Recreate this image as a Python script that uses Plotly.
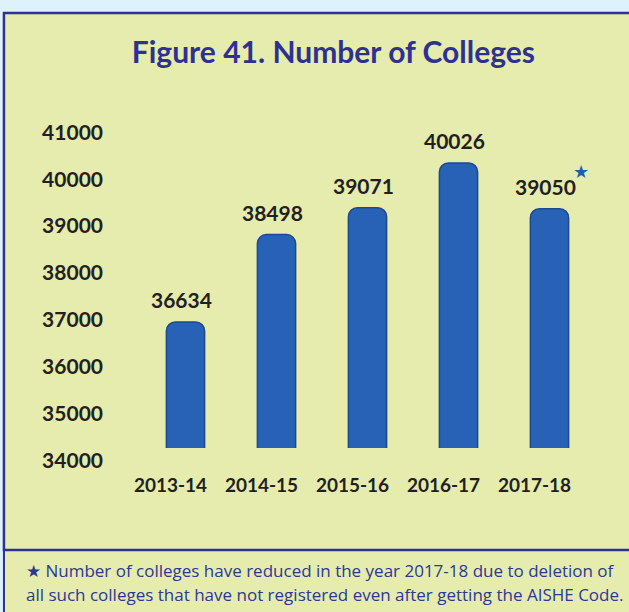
import plotly.graph_objects as go

years = ["2013-14", "2014-15", "2015-16", "2016-17", "2017-18"]
colleges = [36634, 38498, 39071, 40026, 39050]
y_ticks = [34000, 35000, 36000, 37000, 38000, 39000, 40000, 41000]
footnote = [
    "Number of colleges have reduced in the year 2017-18 due to deletion of",
    "all such colleges that have not registered even after getting the AISHE Code.",
]

NAVY = "#2e3192"
YELLOW = "#e5ecae"
INK = "#231f20"

fig = go.Figure()

fig.add_trace(go.Bar(
    x=years,
    y=colleges,
    width=0.42,
    marker=dict(color="#2762b6", line=dict(color="#1b4a8f", width=1.5), cornerradius=9),
    hoverinfo="x+y",
))

# value labels above each bar
for yr, v in zip(years, colleges):
    fig.add_annotation(
        x=yr, y=v, text=f"<b>{v}</b>", showarrow=False,
        yanchor="bottom", yshift=8, xshift=-4,
        font=dict(family="Lato", size=21, color=INK),
    )

# star marking the 2017-18 value
fig.add_annotation(
    x=years[-1], y=colleges[-1], text="★", showarrow=False,
    yanchor="bottom", xshift=31, yshift=25,
    font=dict(family="DejaVu Sans", size=18, color="#1f5fa8"),
)

# frame: footnote box then chart box on top
fig.add_shape(type="rect", xref="paper", yref="paper",
              x0=-0.299, x1=1.12, y0=-0.55, y1=-0.302,
              fillcolor=YELLOW, line=dict(color=NAVY, width=2), layer="below")
fig.add_shape(type="rect", xref="paper", yref="paper",
              x0=-0.299, x1=1.12, y0=-0.302, y1=1.287,
              fillcolor=YELLOW, line=dict(color=NAVY, width=2.5), layer="below")

fig.add_annotation(
    xref="paper", yref="paper", x=-0.255, y=-0.361, xanchor="left", yanchor="middle",
    text="★ " + footnote[0], showarrow=False,
    font=dict(family="Open Sans", size=17, color="#2b3990"),
)
fig.add_annotation(
    xref="paper", yref="paper", x=-0.255, y=-0.432, xanchor="left", yanchor="middle",
    text=footnote[1], showarrow=False,
    font=dict(family="Open Sans", size=17, color="#2b3990"),
)

fig.update_layout(
    width=629,
    height=612,
    margin=dict(l=140, r=34, t=110, b=164),
    paper_bgcolor="#def2fb",
    plot_bgcolor="rgba(0,0,0,0)",
    showlegend=False,
    title=dict(
        text="<b>Figure 41. Number of Colleges</b>",
        x=0.53, xanchor="center", y=1 - 52 / 612, yanchor="middle",
        font=dict(family="Lato", size=30, color=NAVY),
    ),
)

fig.update_xaxes(
    showgrid=False, showline=False, zeroline=False, ticks="",
    tickfont=dict(family="Lato", size=19, color=INK),
    tickprefix="<b>", ticksuffix="</b>",
    ticklabelstandoff=24, ticklabelshift=-15,
)
fig.update_yaxes(
    range=[33946, 41156],
    tickvals=y_ticks,
    ticktext=[f"<b>{t}</b>" for t in y_ticks],
    showgrid=False, showline=False, zeroline=False, ticks="",
    tickfont=dict(family="Lato", size=21, color=INK),
    ticklabelstandoff=36, ticklabelshift=15,
)

# drop the default page margin so the figure sits at the window corner
fig.write_html(
    "out.html",
    config={"displayModeBar": False},
    post_script="document.body.style.margin='0';document.body.style.background='#def2fb';",
)
